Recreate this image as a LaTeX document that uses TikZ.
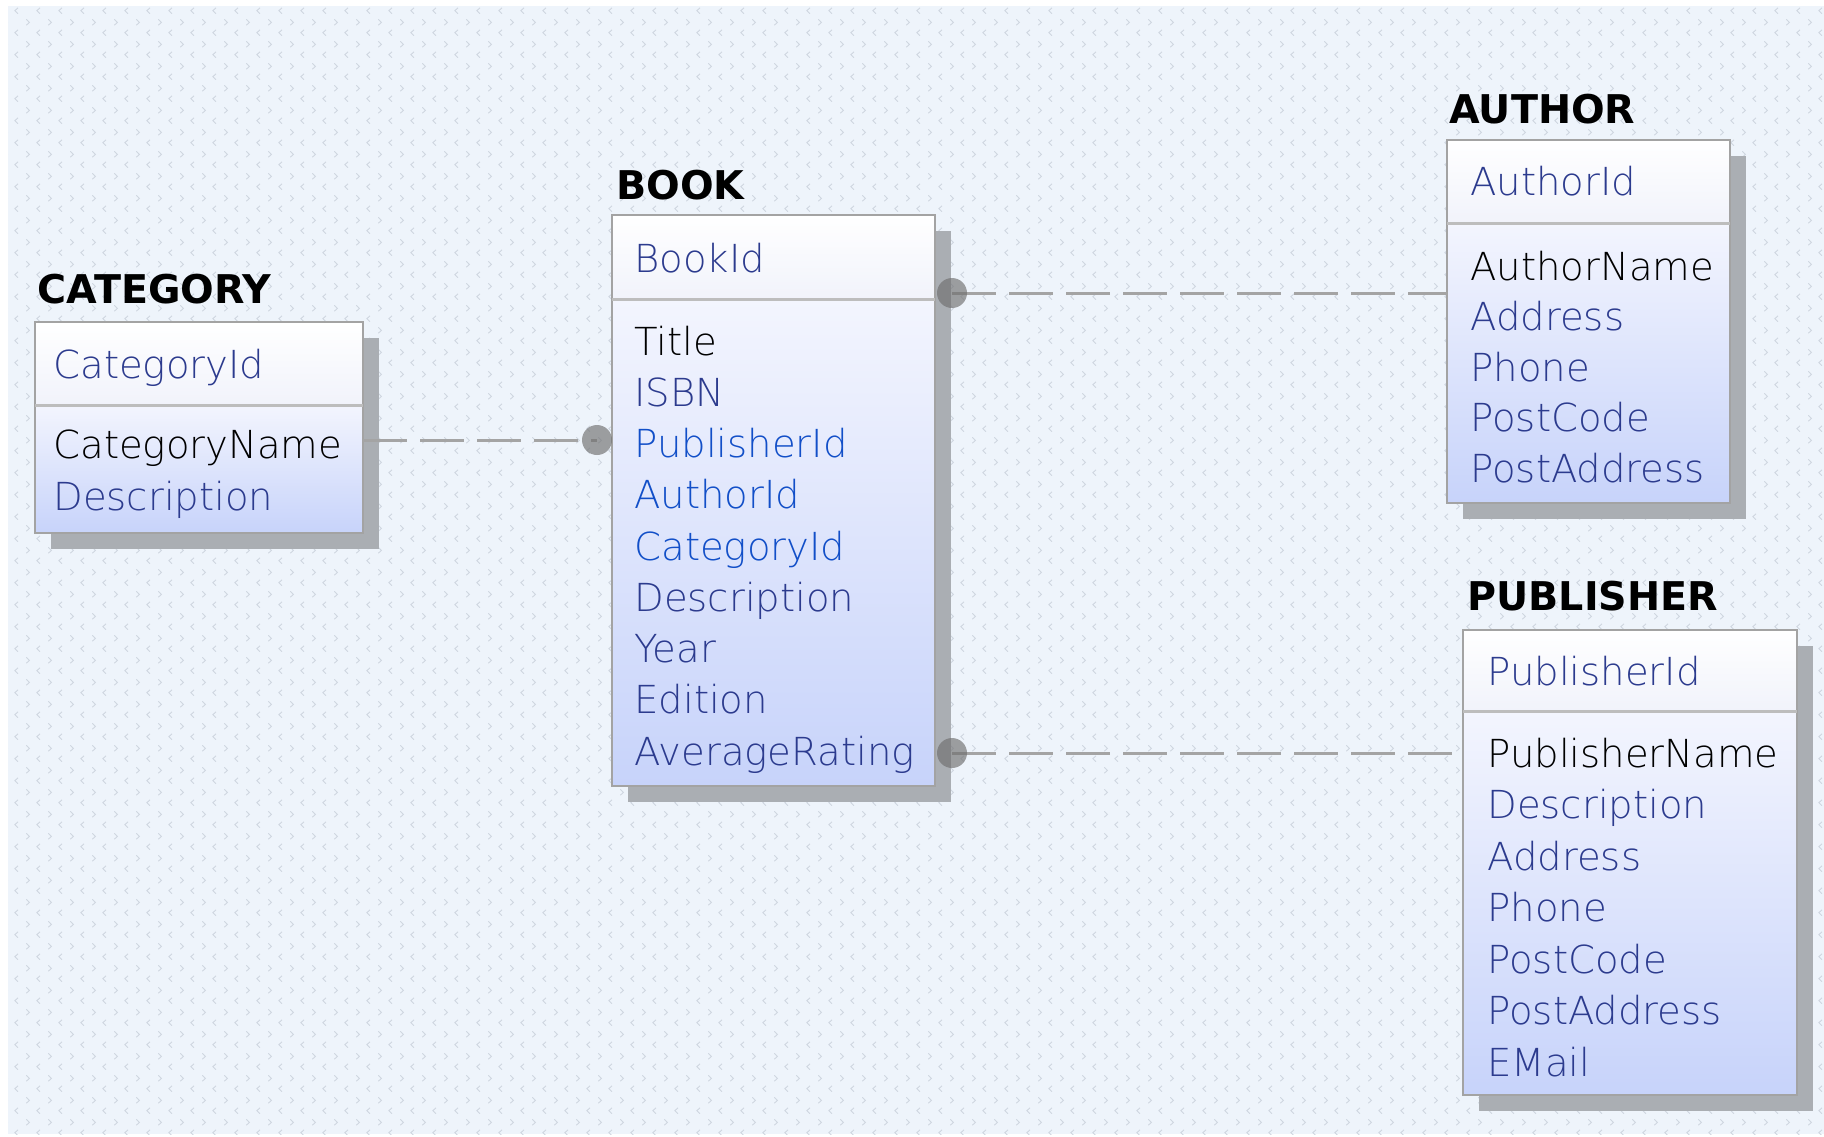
\documentclass[tikz,border=0pt]{standalone}
\usepackage{fontspec}
\setmainfont{DejaVu Sans}
\newfontfamily\fieldfont{DejaVu Sans ExtraLight}
\usetikzlibrary{patterns}
\definecolor{bgc}{HTML}{EEF4FB}
\definecolor{patc}{HTML}{CFD6E0}
\definecolor{shadowc}{HTML}{AAAEB3}
\definecolor{borderc}{HTML}{A3A3A3}
\definecolor{divc}{HTML}{BDBDBD}
\definecolor{hdrbot}{HTML}{F1F3FB}
\definecolor{bodytop}{HTML}{F3F5FE}
\definecolor{bodybot}{HTML}{C7D3FA}
\definecolor{keyc}{HTML}{2C3B8E}
\definecolor{fkc}{HTML}{124FC8}
\definecolor{linec}{HTML}{A4A4A4}
\definecolor{dotc}{HTML}{6F6F6F}
\pgfdeclarepatternformonly{chev}{\pgfpointorigin}{\pgfpoint{10.75pt}{10.75pt}}{\pgfpoint{10.75pt}{10.75pt}}{%
  \pgfsetlinewidth{0.45pt}%
  \pgfpathmoveto{\pgfpoint{2.2pt}{9pt}}\pgfpathlineto{\pgfpoint{3.8pt}{7.5pt}}\pgfpathlineto{\pgfpoint{2.2pt}{6pt}}%
  \pgfpathmoveto{\pgfpoint{9.2pt}{3.7pt}}\pgfpathlineto{\pgfpoint{7.6pt}{2.2pt}}\pgfpathlineto{\pgfpoint{9.2pt}{0.7pt}}%
  \pgfusepath{stroke}}
\tikzset{
  hdr/.style={anchor=north west, inner sep=0pt, outer sep=0pt, rectangle, top color=white, bottom color=hdrbot},
  bdy/.style={anchor=north west, inner sep=0pt, outer sep=0pt, rectangle, top color=bodytop, bottom color=bodybot},
  ttl/.style={anchor=base west, inner sep=0pt, font=\bfseries\fontsize{19.8}{20}\selectfont},
  fld/.style={anchor=base west, inner sep=0pt, font=\fieldfont\fontsize{19.3}{20}\selectfont, text=keyc},
  nm/.style={fld, text=black},
  fk/.style={fld, text=fkc},
  rel/.style={draw=linec, line width=1.5pt, dash pattern=on 22pt off 6.5pt},
  reldot/.style={circle, fill=dotc, fill opacity=0.65, minimum size=15pt, inner sep=0pt, draw=none},
  shd/.style={fill=shadowc},
  brd/.style={draw=borderc, line width=1pt},
  dvd/.style={draw=divc, line width=1.5pt}
}
\begin{document}
\begin{tikzpicture}[x=0.5pt, y=-0.5pt]
\useasboundingbox (0,0) rectangle (1824,1136);
\fill[white] (0,0) rectangle (1824,1136);
\fill[bgc] (8,6) rectangle (1824,1134);
\fill[pattern=chev, pattern color=patc] (8,6) rectangle (1824,1134);

% ---------- CATEGORY ----------
\fill[shd] (51,338) rectangle (379,549);
\node[hdr, minimum width=164pt, minimum height=41.5pt] (cath) at (35,322) {};
\node[bdy, minimum width=164pt, minimum height=64pt] (catb) at (35,405) {};
\draw[brd] (cath.north west) rectangle (catb.south east);
\draw[dvd] (cath.south west) -- (cath.south east);
\node[ttl] (catt) at (37,303) {CATEGORY};
\node[fld] (catk) at (53,378) {CategoryId};
\node[nm] (catf1) at (53,458) {CategoryName};
\node[fld] (catf2) at (53,510) {Description};

% ---------- BOOK ----------
\fill[shd] (628,231) rectangle (951,802);
\node[hdr, minimum width=161.5pt, minimum height=42pt] (bookh) at (612,215) {};
\node[bdy, minimum width=161.5pt, minimum height=243.5pt] (bookb) at (612,299) {};
\draw[brd] (bookh.north west) rectangle (bookb.south east);
\draw[dvd] (bookh.south west) -- (bookh.south east);
\node[ttl] (bookt) at (616,199) {BOOK};
\node[fld] (bookk) at (634,272) {BookId};
\node[nm] (bookf1) at (634,355) {Title};
\node[fld] (bookf2) at (634,406.25) {ISBN};
\node[fk] (bookf3) at (634,457.5) {PublisherId};
\node[fk] (bookf4) at (634,508.75) {AuthorId};
\node[fk] (bookf5) at (634,560) {CategoryId};
\node[fld] (bookf6) at (634,611.25) {Description};
\node[fld] (bookf7) at (634,662.5) {Year};
\node[fld] (bookf8) at (634,713.75) {Edition};
\node[fld] (bookf9) at (634,765) {AverageRating};

% ---------- AUTHOR ----------
\fill[shd] (1463,156) rectangle (1746,519);
\node[hdr, minimum width=141.5pt, minimum height=41.5pt] (authh) at (1447,140) {};
\node[bdy, minimum width=141.5pt, minimum height=140pt] (authb) at (1447,223) {};
\draw[brd] (authh.north west) rectangle (authb.south east);
\draw[dvd] (authh.south west) -- (authh.south east);
\node[ttl] (autht) at (1449,123) {AUTHOR};
\node[fld] (authk) at (1470,195) {AuthorId};
\node[nm] (authf1) at (1470,280) {AuthorName};
\node[fld] (authf2) at (1470,330.5) {Address};
\node[fld] (authf3) at (1470,381) {Phone};
\node[fld] (authf4) at (1470,431.5) {PostCode};
\node[fld] (authf5) at (1470,482) {PostAddress};

% ---------- PUBLISHER ----------
\fill[shd] (1479,646) rectangle (1813,1111);
\node[hdr, minimum width=167pt, minimum height=40.5pt] (pubh) at (1463,630) {};
\node[bdy, minimum width=167pt, minimum height=192pt] (pubb) at (1463,711) {};
\draw[brd] (pubh.north west) rectangle (pubb.south east);
\draw[dvd] (pubh.south west) -- (pubh.south east);
\node[ttl] (pubt) at (1467,610) {PUBLISHER};
\node[fld] (pubk) at (1487,685) {PublisherId};
\node[nm] (pubf1) at (1487,767) {PublisherName};
\node[fld] (pubf2) at (1487,818.5) {Description};
\node[fld] (pubf3) at (1487,870) {Address};
\node[fld] (pubf4) at (1487,921.5) {Phone};
\node[fld] (pubf5) at (1487,973) {PostCode};
\node[fld] (pubf6) at (1487,1024.5) {PostAddress};
\node[fld] (pubf7) at (1487,1076) {EMail};

% ---------- relationships ----------
\coordinate (d1c) at (597,440);
\coordinate (d2c) at (952,293);
\coordinate (d3c) at (952,753);
\draw[rel] (catb.east |- d1c) -- (d1c);
\draw[rel] (d2c) -- (authb.west |- d2c);
\draw[rel] (d3c) -- (pubb.west |- d3c);
\node[reldot] (d1) at (d1c) {};
\node[reldot] (d2) at (d2c) {};
\node[reldot] (d3) at (d3c) {};
\end{tikzpicture}
\end{document}
